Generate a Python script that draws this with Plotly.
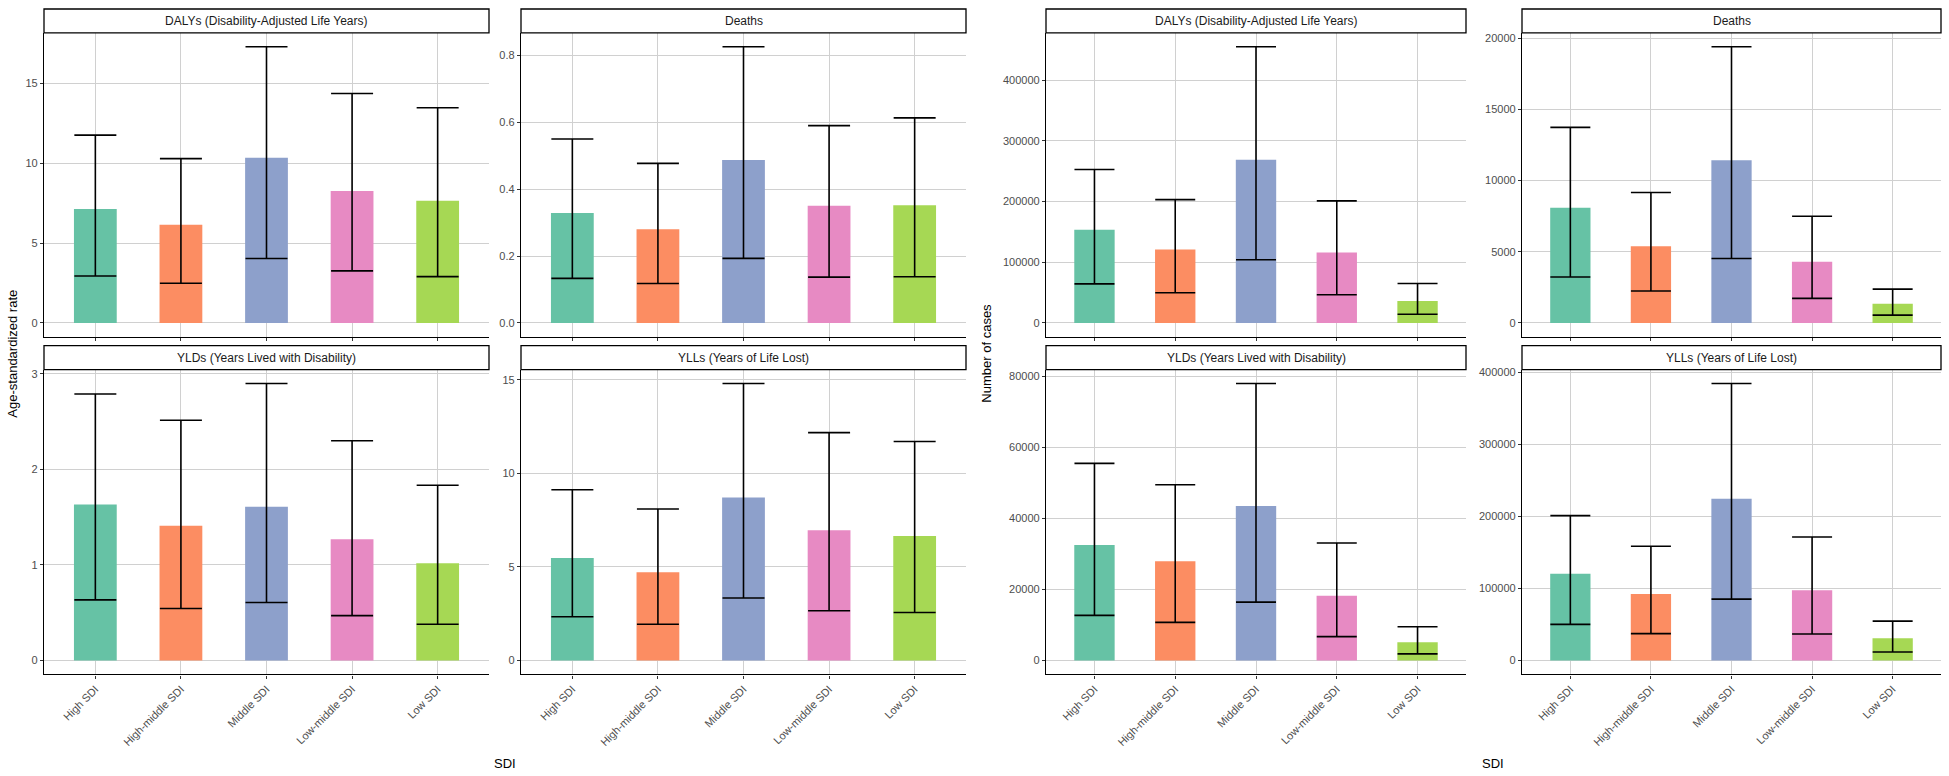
import plotly.graph_objects as go

W, H = 1949, 776

categories = ["High SDI", "High-middle SDI", "Middle SDI", "Low-middle SDI", "Low SDI"]
colors = ["#66C2A5", "#FC8D62", "#8DA0CB", "#E78AC3", "#A6D854"]

# Age-standardized rate
rate_dalys_val = [7.14, 6.14, 10.35, 8.26, 7.65]
rate_dalys_low = [2.94, 2.48, 4.03, 3.26, 2.90]
rate_dalys_up = [11.76, 10.29, 17.30, 14.37, 13.48]

rate_deaths_val = [0.329, 0.280, 0.487, 0.350, 0.352]
rate_deaths_low = [0.133, 0.118, 0.193, 0.137, 0.138]
rate_deaths_up = [0.550, 0.477, 0.826, 0.590, 0.613]

rate_ylds_val = [1.632, 1.410, 1.610, 1.270, 1.018]
rate_ylds_low = [0.635, 0.545, 0.607, 0.470, 0.380]
rate_ylds_up = [2.79, 2.515, 2.90, 2.30, 1.835]

rate_ylls_val = [5.48, 4.72, 8.71, 6.97, 6.65]
rate_ylls_low = [2.34, 1.94, 3.34, 2.66, 2.57]
rate_ylls_up = [9.13, 8.10, 14.81, 12.18, 11.71]

# Number of cases
cases_dalys_val = [153300, 121000, 268700, 116000, 36000]
cases_dalys_low = [64300, 49600, 103900, 46300, 14200]
cases_dalys_up = [252800, 203000, 455000, 201000, 64900]

cases_deaths_val = [8100, 5390, 11430, 4300, 1350]
cases_deaths_low = [3220, 2240, 4530, 1720, 545]
cases_deaths_up = [13740, 9160, 19410, 7490, 2370]

cases_ylds_val = [32540, 27940, 43480, 18230, 5130]
cases_ylds_low = [12700, 10740, 16440, 6730, 1880]
cases_ylds_up = [55500, 49500, 78000, 33100, 9530]

cases_ylls_val = [120500, 92300, 224800, 97800, 30900]
cases_ylls_low = [50300, 37400, 85300, 36900, 11900]
cases_ylls_up = [201300, 158800, 385000, 171700, 54800]

FONT = "Arial, Liberation Sans, sans-serif"


def fx(a, b):
    return [a / W, b / W]


def fy(top, bottom):
    return [1 - bottom / H, 1 - top / H]


# (strip title, val, low, up, x px, y px, cap half width, dtick, tickformat, bottom row)
panels = [
    ("DALYs (Disability-Adjusted Life Years)", rate_dalys_val, rate_dalys_low, rate_dalys_up,
     (44, 489), (30, 335), 21, 5, "d", False),
    ("Deaths", rate_deaths_val, rate_deaths_low, rate_deaths_up,
     (521, 966), (30, 335), 21, 0.2, ".1f", False),
    ("YLDs (Years Lived with Disability)", rate_ylds_val, rate_ylds_low, rate_ylds_up,
     (44, 489), (368, 674), 21, 1, "d", True),
    ("YLLs (Years of Life Lost)", rate_ylls_val, rate_ylls_low, rate_ylls_up,
     (521, 966), (368, 674), 21, 5, "d", True),
    ("DALYs (Disability-Adjusted Life Years)", cases_dalys_val, cases_dalys_low, cases_dalys_up,
     (1046, 1466), (30, 335), 20, 100000, "d", False),
    ("Deaths", cases_deaths_val, cases_deaths_low, cases_deaths_up,
     (1522, 1941), (30, 335), 20, 5000, "d", False),
    ("YLDs (Years Lived with Disability)", cases_ylds_val, cases_ylds_low, cases_ylds_up,
     (1046, 1466), (368, 674), 20, 20000, "d", True),
    ("YLLs (Years of Life Lost)", cases_ylls_val, cases_ylls_low, cases_ylls_up,
     (1522, 1941), (368, 674), 20, 100000, "d", True),
]

fig = go.Figure()
shapes = []
annotations = []
axes = {}

for i, (title, val, low, up, xpx, ypx, capw, dtick, tfmt, bottom) in enumerate(panels, start=1):
    sfx = "" if i == 1 else str(i)
    fig.add_trace(go.Bar(
        x=categories, y=val,
        marker=dict(color=colors, line=dict(width=0)),
        width=0.5,
        error_y=dict(
            type="data", symmetric=False,
            array=[u - v for u, v in zip(up, val)],
            arrayminus=[v - l for v, l in zip(val, low)],
            color="black", thickness=1.6, width=capw
        ),
        xaxis="x" + sfx, yaxis="y" + sfx,
        showlegend=False, hoverinfo="skip"
    ))

    top = max(up)
    axes["xaxis" + sfx] = dict(
        domain=fx(*xpx), anchor="y" + sfx, type="category",
        range=[-0.6, 4.6], showgrid=True, gridcolor="#d0d0d0", gridwidth=1,
        showline=True, linecolor="black", linewidth=1.3,
        ticks="outside", ticklen=3, tickcolor="#333333",
        tickangle=-45, showticklabels=bottom,
        tickfont=dict(family=FONT, size=11, color="#4d4d4d"),
        fixedrange=True
    )
    axes["yaxis" + sfx] = dict(
        domain=fy(*ypx), anchor="x" + sfx,
        range=[-0.05 * top, 1.05 * top], dtick=dtick, tick0=0, tickformat=tfmt,
        showgrid=True, gridcolor="#d0d0d0", gridwidth=1, zeroline=False,
        showline=True, linecolor="black", linewidth=1.3,
        ticks="outside", ticklen=3, tickcolor="#333333",
        tickfont=dict(family=FONT, size=11, color="#4d4d4d"),
        fixedrange=True
    )

    # strip box with facet title
    shapes.append(dict(
        type="rect", xref="paper", yref="paper",
        x0=xpx[0] / W, x1=xpx[1] / W,
        y0=1 - ypx[0] / H, y1=1 - (ypx[0] - 24) / H,
        line=dict(color="black", width=1.3), fillcolor="white", layer="above"
    ))
    annotations.append(dict(
        text=title, xref="paper", yref="paper",
        x=(xpx[0] + xpx[1]) / 2 / W, y=1 - (ypx[0] - 12) / H,
        showarrow=False, xanchor="center", yanchor="middle",
        font=dict(family=FONT, size=12, color="#1a1a1a")
    ))

# axis titles
for txt, x, y, ang in [
    ("Age-standardized rate", 13, 352, -90),
    ("Number of cases", 987, 352, -90),
    ("SDI", 505, 763, 0),
    ("SDI", 1493, 763, 0),
]:
    annotations.append(dict(
        text=txt, xref="paper", yref="paper", x=x / W, y=1 - y / H,
        showarrow=False, xanchor="center", yanchor="middle", textangle=ang,
        font=dict(family=FONT, size=13, color="black")
    ))

fig.update_layout(
    width=W, height=H,
    margin=dict(l=0, r=0, t=0, b=0),
    paper_bgcolor="white", plot_bgcolor="white",
    bargap=0.5, shapes=shapes, annotations=annotations,
    font=dict(family=FONT),
    **axes
)

fig.write_html(
    "out.html",
    config={"displayModeBar": False},
    post_script="document.body.style.margin='0';document.body.style.overflow='hidden';"
)
